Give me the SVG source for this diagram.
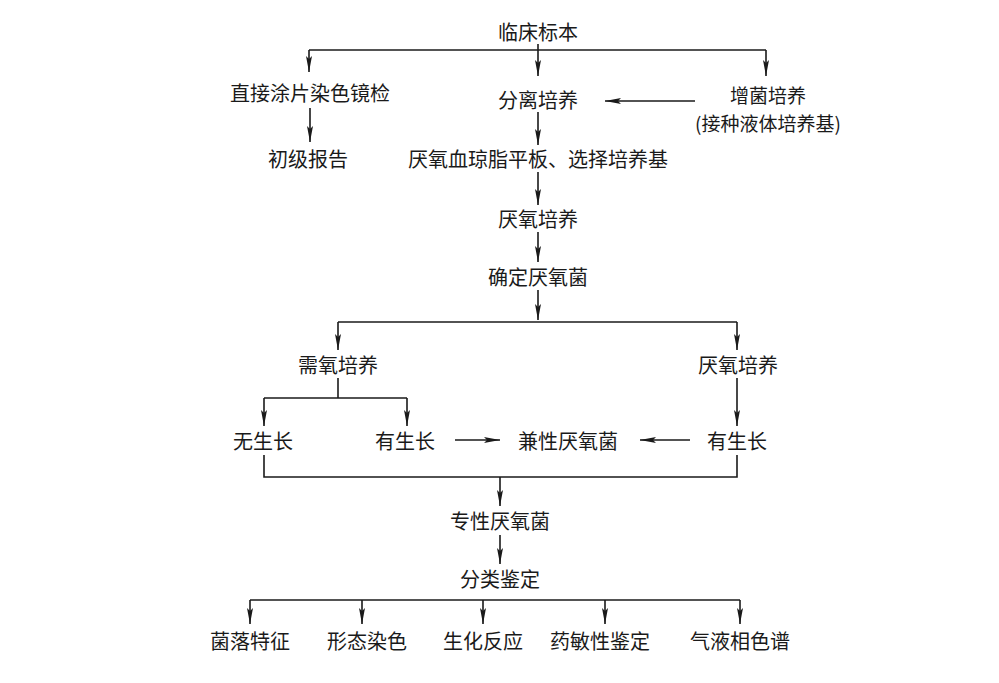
<svg xmlns="http://www.w3.org/2000/svg" width="999" height="683" viewBox="0 0 999 683">
<style>
text{font-family:"Noto Sans CJK SC","Liberation Sans",sans-serif;font-size:20px;fill:#1a1a1a;text-anchor:middle;dominant-baseline:central}
.c line,.c path{stroke:#1a1a1a;stroke-width:1.6;fill:none}
.c .a{marker-end:url(#ah)}
</style>
<defs><marker id="ah" viewBox="0 0 16 6" refX="16" refY="3" markerWidth="16" markerHeight="6" markerUnits="userSpaceOnUse" orient="auto"><path d="M0,0 L16,3 L0,6 L3,3 Z" fill="#1a1a1a"/></marker></defs>
<rect width="999" height="683" fill="#fff"/>
<g class="c" id="connectors">
<line x1="538" y1="44" x2="538" y2="50"/>
<line x1="309" y1="50" x2="766" y2="50"/>
<line class="a" x1="309" y1="50" x2="309" y2="72"/>
<line class="a" x1="538" y1="50" x2="538" y2="76"/>
<line class="a" x1="766" y1="50" x2="766" y2="76"/>
<line class="a" x1="695" y1="101" x2="605" y2="101"/>
<line class="a" x1="310" y1="108" x2="310" y2="142"/>
<line class="a" x1="538" y1="112" x2="538" y2="145"/>
<line class="a" x1="538" y1="172" x2="538" y2="205"/>
<line class="a" x1="538" y1="232" x2="538" y2="262"/>
<line class="a" x1="538" y1="290" x2="538" y2="320"/>
<line x1="338" y1="322" x2="737" y2="322"/>
<line class="a" x1="338" y1="322" x2="338" y2="350"/>
<line class="a" x1="737" y1="322" x2="737" y2="350"/>
<line x1="338" y1="378" x2="338" y2="398"/>
<line x1="264" y1="398" x2="407" y2="398"/>
<line class="a" x1="264" y1="398" x2="264" y2="426"/>
<line class="a" x1="407" y1="398" x2="407" y2="426"/>
<line class="a" x1="737" y1="378" x2="737" y2="426"/>
<line class="a" x1="455" y1="440" x2="500" y2="440"/>
<line class="a" x1="690" y1="440" x2="640" y2="440"/>
<path d="M264,455 V477 H737 V455"/>
<line class="a" x1="500" y1="477" x2="500" y2="506"/>
<line class="a" x1="500" y1="535" x2="500" y2="564"/>
<line x1="250" y1="600" x2="740" y2="600"/>
<line class="a" x1="250" y1="600" x2="250" y2="624"/>
<line class="a" x1="362" y1="600" x2="362" y2="624"/>
<line class="a" x1="483" y1="600" x2="483" y2="624"/>
<line class="a" x1="605" y1="600" x2="605" y2="624"/>
<line class="a" x1="740" y1="600" x2="740" y2="624"/>
</g>
<g id="n1"><text x="538" y="31">临床标本</text></g>
<g id="n2"><text x="310" y="92">直接涂片染色镜检</text></g>
<g id="n3"><text x="538" y="99">分离培养</text></g>
<g id="n4"><text x="768" y="94" style="font-size:19px">增菌培养</text><text x="768" y="122" style="font-size:19px">(接种液体培养基)</text></g>
<g id="n5"><text x="308" y="158">初级报告</text></g>
<g id="n6"><text x="538" y="158">厌氧血琼脂平板、选择培养基</text></g>
<g id="n7"><text x="538" y="218">厌氧培养</text></g>
<g id="n8"><text x="538" y="276">确定厌氧菌</text></g>
<g id="n9"><text x="338" y="364">需氧培养</text></g>
<g id="n10"><text x="738" y="364">厌氧培养</text></g>
<g id="n11"><text x="263" y="440">无生长</text></g>
<g id="n12"><text x="405" y="440">有生长</text></g>
<g id="n13"><text x="568" y="440">兼性厌氧菌</text></g>
<g id="n14"><text x="737" y="440">有生长</text></g>
<g id="n15"><text x="500" y="520">专性厌氧菌</text></g>
<g id="n16"><text x="500" y="578">分类鉴定</text></g>
<g id="n17"><text x="250" y="640">菌落特征</text></g>
<g id="n18"><text x="367" y="640">形态染色</text></g>
<g id="n19"><text x="483" y="640">生化反应</text></g>
<g id="n20"><text x="600" y="640">药敏性鉴定</text></g>
<g id="n21"><text x="740" y="640">气液相色谱</text></g>
</svg>
